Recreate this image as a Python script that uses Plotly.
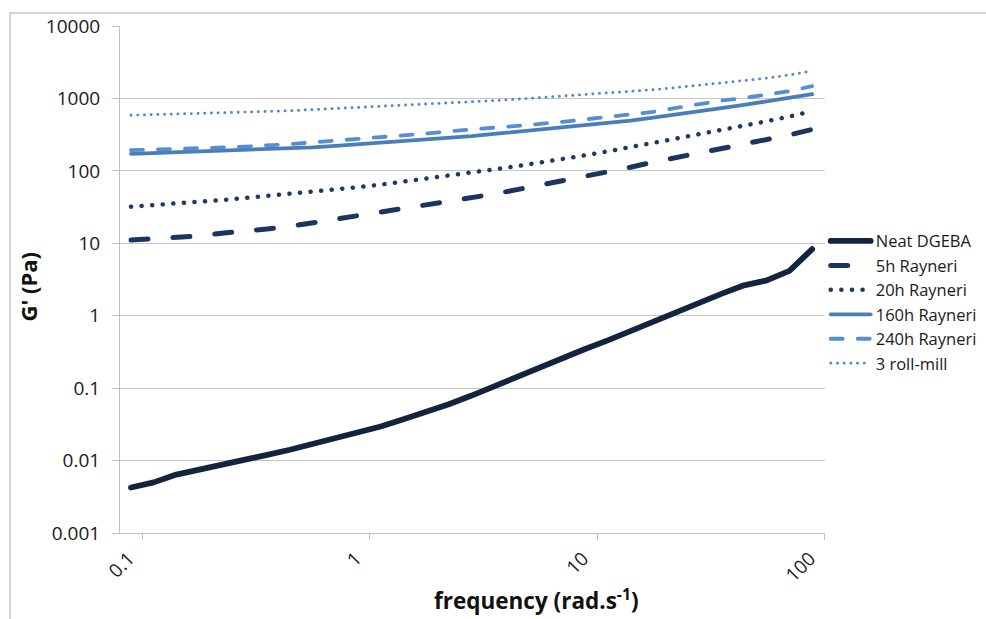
import plotly.graph_objects as go

freq = [0.0886, 0.1115, 0.1404, 0.1767, 0.2225, 0.2801, 0.3526, 0.4439, 0.5588, 0.7035,
        0.886, 1.115, 1.404, 1.767, 2.225, 2.801, 3.526, 4.439, 5.588, 7.035,
        8.86, 11.15, 14.04, 17.67, 22.25, 28.01, 35.26, 44.39, 55.88, 70.35, 88.6]

neat = [0.00425, 0.0050, 0.0064, 0.0074, 0.0087, 0.0102, 0.0120, 0.0141, 0.0170, 0.0200,
        0.0240, 0.0295, 0.0372, 0.0468, 0.060, 0.079, 0.107, 0.145, 0.195, 0.266,
        0.347, 0.457, 0.617, 0.83, 1.12, 1.51, 2.0, 2.63, 3.07, 4.17, 8.3]

h5 = [11.1, 11.6, 12.1, 12.6, 13.8, 14.6, 15.8, 17.1, 19.2, 21.1,
      23.4, 26.3, 29.5, 33.3, 37.8, 42.2, 47.9, 55, 63, 72,
      83, 96.6, 112, 132, 153, 178, 204, 232, 266, 313, 373]

h20 = [32, 33.5, 35.1, 37, 39.5, 42.2, 44.9, 47.9, 51.1, 55,
       59.6, 64.6, 70.8, 77.6, 86, 95.5, 105, 116, 129, 145,
       164, 186, 211, 243, 279, 320, 363, 417, 484, 562, 668]

h160 = [172, 176, 180, 184, 188, 193, 198, 204, 211, 221,
        232, 243, 254, 269, 285, 302, 324, 347, 376, 403,
        427, 457, 495, 543, 596, 661, 733, 813, 912, 1023, 1143]

h240 = [193, 196, 200, 204, 210, 216, 223, 234, 247, 260,
        275, 292, 309, 327, 351, 376, 395, 417, 442, 475,
        513, 552, 596, 653, 741, 832, 933, 1012, 1122, 1259, 1479]

roll3 = [586, 596, 605, 617, 631, 646, 661, 676, 700, 721,
         745, 771, 798, 828, 861, 895, 933, 977, 1023, 1072,
         1122, 1175, 1245, 1318, 1413, 1514, 1622, 1758, 1905, 2113, 2399]

names = ["Neat DGEBA", "5h Rayneri", "20h Rayneri", "160h Rayneri", "240h Rayneri", "3 roll-mill"]
series = [neat, h5, h20, h160, h240, roll3]
colors = ["#13243f", "#1b3560", "#1f3864", "#4a7ebb", "#558ed5", "#4f86c6"]
widths = [5.8, 5, 4.5, 3.8, 3.8, 2.8]
dashes = ["solid", "17px,25px", "0.1px,10.5px", "solid", "12px,15px", "0.1px,6.6px"]

ytickvals = [0.001, 0.01, 0.1, 1, 10, 100, 1000, 10000]
yticktext = ["0.001", "0.01", "0.1", "1", "10", "100", "1000", "10000"]
xtickvals = [0.1, 1, 10, 100]
xticktext = ["0.1", "1", "10", "100"]

FONT = "Open Sans"

fig = go.Figure()
for n, s, c, w, d in zip(names, series, colors, widths, dashes):
    fig.add_trace(go.Scatter(x=freq, y=s, name=n, mode="lines",
                             line=dict(color=c, width=w, dash=d)))

fig.update_layout(
    width=986, height=619,
    margin=dict(l=120, r=161, t=26, b=86, autoexpand=False),
    paper_bgcolor="white", plot_bgcolor="white",
    font=dict(family=FONT, color="#1a1a1a"),
    showlegend=True,
    legend=dict(x=1.001, y=0.61, xanchor="left", yanchor="top",
                font=dict(size=16.5, family=FONT, color="#1a1a1a"),
                itemwidth=40,
                bgcolor="rgba(0,0,0,0)", tracegroupgap=0),
    xaxis=dict(type="log", range=[-1.101, 2.004], showgrid=False,
               showline=True, linecolor="#bfbfbf", linewidth=1,
               ticks="outside", ticklen=6, tickcolor="#bfbfbf",
               tickvals=xtickvals, ticktext=xticktext, tickangle=-45,
               ticklabelshift=-14, automargin=False,
               tickfont=dict(size=19, family=FONT, color="#1a1a1a"),
               zeroline=False),
    yaxis=dict(type="log", range=[-3, 4], showgrid=True, gridcolor="#c6c6c6",
               gridwidth=1, showline=True, linecolor="#bfbfbf", linewidth=1,
               ticks="outside", ticklen=7, tickcolor="#bfbfbf",
               tickvals=ytickvals, ticktext=yticktext, ticklabelstandoff=8,
               automargin=False,
               tickfont=dict(size=19, family=FONT, color="#1a1a1a"),
               zeroline=False),
    shapes=[dict(type="rect", xref="paper", yref="paper",
                 x0=-0.156, x1=1.5, y0=-0.5, y1=1.0256,
                 line=dict(color="#c8c8c8", width=1.5), fillcolor="rgba(0,0,0,0)",
                 layer="below")],
    annotations=[
        dict(text="<b>frequency (rad.s<sup>-1</sup>)</b>", xref="paper", yref="paper",
             x=0.591, y=-0.132, xanchor="center", yanchor="middle", showarrow=False,
             font=dict(size=22.5, family=FONT, color="#111111")),
        dict(text="<b>G' (Pa)</b>", xref="paper", yref="paper",
             x=-0.13, y=0.487, xanchor="center", yanchor="middle", showarrow=False,
             textangle=-90, font=dict(size=22, family=FONT, color="#111111")),
    ],
)

post = """
document.body.style.margin = '0';
document.body.style.overflow = 'hidden';
var gd = document.getElementsByClassName('plotly-graph-div')[0];
function rc(){
  document.querySelectorAll('path.js-line').forEach(function(p){
    p.style.strokeLinecap='round'; p.style.strokeLinejoin='round';
  });
}
rc();
if (gd && gd.on) { gd.on('plotly_afterplot', rc); }
"""

fig.write_html("out.html", post_script=post, config={"displayModeBar": False})
